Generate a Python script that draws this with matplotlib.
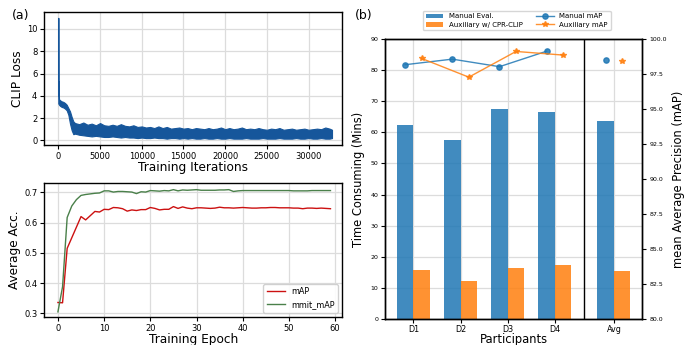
import matplotlib
matplotlib.use('Agg')
import matplotlib.pyplot as plt
import numpy as np

# ---------------- data ----------------
# (a) top: CLIP loss band (upper / lower envelope)
loss_iters = [0, 15, 40, 80, 200, 400, 600, 800, 1000, 1200, 1400, 1600, 1800,
              2000, 2500, 3000, 3500, 4000, 4500, 5000, 5500, 6000, 6500, 7000,
              7500, 8000, 8500, 9000, 9500, 10000, 10500, 11000, 11500, 12000,
              12500, 13000, 13500, 14000, 14500, 15000, 15500, 16000, 16500,
              17000, 17500, 18000, 18500, 19000, 19500, 20000, 20500, 21000,
              21500, 22000, 22500, 23000, 23500, 24000, 24500, 25000, 25500,
              26000, 26500, 27000, 27500, 28000, 28500, 29000, 29500, 30000,
              30500, 31000, 31500, 32000, 32500, 32800]
loss_upper = [11.0, 4.0, 5.3, 3.7, 3.6, 3.5, 3.45, 3.35, 3.2, 2.9, 2.6, 2.1, 1.7,
              1.55, 1.45, 1.6, 1.4, 1.5, 1.35, 1.55, 1.35, 1.3, 1.4, 1.3,
              1.45, 1.3, 1.25, 1.35, 1.2, 1.25, 1.15, 1.2, 1.1, 1.25,
              1.1, 1.2, 1.05, 1.1, 1.15, 1.05, 1.1, 1.0, 1.1,
              1.05, 1.0, 1.1, 1.0, 1.05, 1.15, 1.0, 1.1, 1.0,
              1.05, 1.15, 1.0, 1.05, 1.0, 1.1, 1.0, 0.95, 1.05,
              1.0, 1.1, 0.95, 1.0, 1.05, 0.95, 1.0, 1.05, 0.95,
              1.0, 1.05, 1.0, 1.15, 1.05, 0.95]
loss_lower = [3.3, 3.3, 3.3, 3.2, 3.1, 3.0, 2.95, 2.85, 2.7, 2.3, 1.5, 0.9, 0.55,
              0.6, 0.5, 0.45, 0.4, 0.35, 0.4, 0.35, 0.3, 0.3, 0.35, 0.3,
              0.25, 0.3, 0.25, 0.25, 0.2, 0.25, 0.2, 0.2, 0.25, 0.2,
              0.2, 0.15, 0.2, 0.2, 0.15, 0.2, 0.15, 0.2, 0.15,
              0.15, 0.2, 0.15, 0.15, 0.2, 0.15, 0.15, 0.2, 0.15,
              0.15, 0.15, 0.2, 0.15, 0.15, 0.15, 0.2, 0.15, 0.15,
              0.15, 0.2, 0.15, 0.15, 0.15, 0.2, 0.15, 0.15, 0.2,
              0.15, 0.15, 0.2, 0.15, 0.15, 0.2]

# (a) bottom: accuracy per epoch
epochs = list(range(60))
map_vals = [0.336, 0.335, 0.515, 0.550, 0.585, 0.620, 0.609, 0.623, 0.637, 0.635,
            0.644, 0.643, 0.650, 0.649, 0.646, 0.638, 0.642, 0.640, 0.643, 0.643,
            0.650, 0.647, 0.642, 0.644, 0.644, 0.653, 0.647, 0.652, 0.648, 0.646,
            0.649, 0.649, 0.648, 0.647, 0.648, 0.651, 0.649, 0.649, 0.648, 0.649,
            0.650, 0.649, 0.648, 0.648, 0.649, 0.649, 0.650, 0.650, 0.649, 0.649,
            0.649, 0.648, 0.648, 0.646, 0.648, 0.648, 0.647, 0.648, 0.647, 0.646]
mmit_vals = [0.305, 0.388, 0.617, 0.655, 0.676, 0.690, 0.693, 0.695, 0.697, 0.698,
             0.705, 0.705, 0.701, 0.703, 0.703, 0.702, 0.701, 0.696, 0.702, 0.701,
             0.706, 0.705, 0.704, 0.706, 0.705, 0.709, 0.705, 0.708, 0.707, 0.708,
             0.709, 0.707, 0.707, 0.707, 0.707, 0.708, 0.708, 0.709, 0.703, 0.705,
             0.706, 0.706, 0.706, 0.706, 0.706, 0.706, 0.706, 0.706, 0.706, 0.706,
             0.706, 0.705, 0.705, 0.705, 0.705, 0.706, 0.706, 0.706, 0.706, 0.706]

# (b)
participants = ['D1', 'D2', 'D3', 'D4']
avg_label = 'Avg'
manual_time = [62.4, 57.5, 67.5, 66.5]
aux_time = [15.75, 12.2, 16.4, 17.4]
manual_time_avg = 63.6
aux_time_avg = 15.4
manual_map = [98.18, 98.58, 98.04, 99.15]
aux_map = [98.63, 97.29, 99.13, 98.87]
manual_map_avg = 98.49
aux_map_avg = 98.48

# ---------------- style ----------------
GRID = '#dcdcdc'
BLUE = '#1f77b4'
ORANGE = '#ff7f0e'
LOSSC = '#16569b'

def style(ax, lab=6):
    ax.grid(True, color=GRID, lw=0.9)
    ax.set_axisbelow(True)
    for s in ax.spines.values():
        s.set_color('black')
        s.set_linewidth(1.0)
    ax.tick_params(labelsize=lab, length=3, width=0.8, pad=2)

fig = plt.figure(figsize=(6.89, 3.45), dpi=100)
ax1 = fig.add_axes([0.0643, 0.5797, 0.4321, 0.3864])
ax2 = fig.add_axes([0.0643, 0.082, 0.4321, 0.3867])
ax3 = fig.add_axes([0.5588, 0.0762, 0.3734, 0.8099])

# top-left
style(ax1)
ax1.fill_between(loss_iters, loss_lower, loss_upper, color=LOSSC, lw=0.8,
                 edgecolor=LOSSC)
ax1.set_xlim(-1680, 34000)
ax1.set_ylim(-0.42, 11.55)
ax1.set_xticks([0, 5000, 10000, 15000, 20000, 25000, 30000])
ax1.set_yticks([0, 2, 4, 6, 8, 10])
ax1.set_xlabel('Training Iterations', fontsize=8.7, labelpad=0)
ax1.set_ylabel('CLIP Loss', fontsize=8.7, labelpad=2)

# bottom-left
style(ax2)
ax2.plot(epochs, map_vals, color='#cc1111', lw=1.0, label='mAP')
ax2.plot(epochs, mmit_vals, color='#4a804a', lw=1.0, label='mmit_mAP')
ax2.set_xlim(-2.95, 61.5)
ax2.set_ylim(0.289, 0.730)
ax2.set_xticks([0, 10, 20, 30, 40, 50, 60])
ax2.set_yticks([0.3, 0.4, 0.5, 0.6, 0.7])
ax2.set_xlabel('Training Epoch', fontsize=8.7, labelpad=0)
ax2.set_ylabel('Average Acc.', fontsize=8.7, labelpad=2)
ax2.legend(loc='lower right', fontsize=5.9, framealpha=0.9, edgecolor='#cccccc',
           handlelength=2.2)

# right
style(ax3, lab=4.5)
n = len(participants)
x = np.arange(n)
xa = 4.25
w = 0.35
b1 = ax3.bar(list(x - w / 2) + [xa - w / 2], manual_time + [manual_time_avg], w,
             color=BLUE, alpha=0.85, label='Manual Eval.')
b2 = ax3.bar(list(x + w / 2) + [xa + w / 2], aux_time + [aux_time_avg], w,
             color=ORANGE, alpha=0.85, label='Auxiliary w/ CPR-CLIP')
ax3.axvline(3.625, color='black', lw=1.0)
ax3.set_ylim(0, 90)
ax3.set_yticks(range(0, 91, 10))
ax3.set_xlim(-0.6, 4.85)
ax3.set_xticks(list(x) + [xa])
ax3.set_xticklabels(participants + [avg_label])
ax3.tick_params(axis='x', labelsize=5.8, pad=1.5)
ax3.set_xlabel('Participants', fontsize=8.3, labelpad=-0.5)
ax3.set_ylabel('Time Consuming (Mins)', fontsize=8.3, labelpad=4)

ax4 = ax3.twinx()
ax4.grid(False)
for s in ax4.spines.values():
    s.set_color('black')
    s.set_linewidth(1.0)
ax4.tick_params(labelsize=4.5, length=3, width=0.8, pad=2)
l1, = ax4.plot(x - w / 2, manual_map, color=BLUE, alpha=0.85, lw=1.0, marker='o',
               ms=3.8, label='Manual mAP')
l2, = ax4.plot(x + w / 2, aux_map, color=ORANGE, alpha=0.85, lw=1.0, marker='*',
               ms=4.2, label='Auxiliary mAP')
ax4.plot([xa - w / 2], [manual_map_avg], color=BLUE, alpha=0.85, marker='o', ms=3.8,
         ls='none')
ax4.plot([xa + w / 2], [aux_map_avg], color=ORANGE, alpha=0.85, marker='*', ms=4.2,
         ls='none')
ax4.set_ylim(80, 100)
ax4.set_yticks(np.arange(80, 100.1, 2.5))
ax4.yaxis.set_major_formatter(matplotlib.ticker.FormatStrFormatter('%.1f'))
ax4.set_ylabel('mean Average Precision (mAP)', fontsize=8.3, labelpad=4)

fig.legend([b1, b2, l1, l2],
           ['Manual Eval.', 'Auxiliary w/ CPR-CLIP', 'Manual mAP', 'Auxiliary mAP'],
           ncol=2, loc='center', bbox_to_anchor=(0.750, 0.9406), fontsize=5,
           edgecolor='#cccccc', columnspacing=2.0, handlelength=2.5,
           borderpad=0.4, labelspacing=0.3)

fig.text(12 / 689, 1 - 15 / 345, '(a)', fontsize=9, va='center', ha='left')
fig.text(355 / 689, 1 - 15 / 345, '(b)', fontsize=9, va='center', ha='left')

fig.savefig('out.png', dpi=100)
